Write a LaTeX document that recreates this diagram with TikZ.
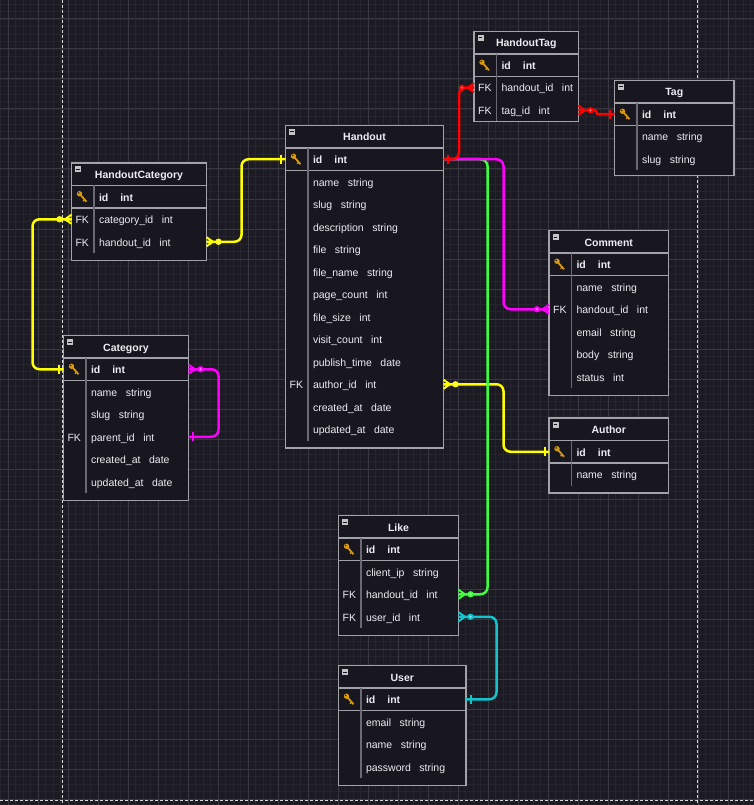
\documentclass[tikz,border=0pt]{standalone}
\usepackage{fontspec}
\setmainfont{Liberation Sans}
\usepackage{tikz}
\usetikzlibrary{positioning,calc}

\definecolor{bgcol}{HTML}{1C1A23}
\definecolor{gridminor}{HTML}{26242D}
\definecolor{gridmajor}{HTML}{393740}
\definecolor{tablefill}{HTML}{18161E}
\definecolor{linegray}{HTML}{A3A2A8}
\definecolor{divgray}{HTML}{6B6A72}
\definecolor{minusgray}{HTML}{C4C4C8}
\definecolor{fg}{HTML}{EDEDF3}
\definecolor{keycol}{HTML}{D89A10}
\definecolor{relyel}{HTML}{FFFF00}
\definecolor{relmag}{HTML}{FF00FF}
\definecolor{relred}{HTML}{FF0000}
\definecolor{relgrn}{HTML}{3CFF3C}
\definecolor{relcya}{HTML}{14C4CC}

\newcommand{\fieldfont}{\fontsize{10.5}{12}\selectfont}
\newcommand{\titlefont}{\fontsize{10.5}{12}\selectfont\bfseries}
\newcommand{\colrow}[2]{#1\hspace{8.5pt}#2}
\newcommand{\idrow}{id\hspace{12pt}int}

\tikzstyle{tbox}=[draw=linegray, line width=1.2pt, fill=tablefill, inner sep=0pt, outer sep=0pt, anchor=north west]
\tikzstyle{ttitle}=[font=\titlefont, text=fg, inner sep=0pt, outer sep=0pt, minimum height=22.5pt, text height=9.5pt, text depth=1pt]
\tikzstyle{field}=[font=\fieldfont, text=fg, inner sep=0pt, outer sep=0pt, minimum height=22.5pt, text height=9.5pt, text depth=1pt, anchor=west]
\tikzstyle{pkfield}=[field, font=\titlefont]
\tikzstyle{fk}=[font=\fieldfont, text=fg, inner sep=0pt, outer sep=0pt, text height=9.5pt, text depth=1pt]
\tikzstyle{tline}=[draw=linegray, line width=1.2pt]
\tikzstyle{tdiv}=[draw=divgray, line width=1.5pt]
\tikzstyle{rel}=[line width=2.5pt, rounded corners=7pt]
\tikzstyle{pageline}=[draw=white!85!black, line width=1pt, dash pattern=on 3pt off 2pt]
\tikzset{
  nextrow/.style={field, below=0pt of #1.south west, anchor=north west},
  crow/.pic={
    \draw[line width=2pt] (0,4.5) -- (6.5,0) -- (0,-4.5) (0,0) -- (6.5,0);
    \fill (12,0) circle (3.2pt);
    \fill[white, opacity=0.6] (12,0) circle (1.1pt);
  },
  onebar/.pic={
    \draw[line width=2pt] (4.5,-4.5) -- (4.5,4.5);
  },
  keyicon/.pic={
    \fill[keycol] (0,-3) circle (2.7pt);
    \draw[keycol, line width=1.8pt] (0,-3) -- (7,5);
    \draw[keycol, line width=1.3pt] (5.2,2.8) -- (3.5,4.5);
    \fill[tablefill] (-0.8,-3.8) circle (0.8pt);
  },
  minbox/.pic={
    \fill[minusgray] (3.5,3.5) rectangle (9.5,9.5);
    \draw[tablefill, line width=1pt] (4.6,6.5) -- (8.4,6.5);
  }
}

\begin{document}
\begin{tikzpicture}[x=1pt, y=-1pt, node distance=22.5pt]
\useasboundingbox (0,0) rectangle (754,805);
% background and grid
\fill[bgcol] (0,0) rectangle (754,805);
\foreach \gx in {0.5,8,...,754} \draw[gridminor, line width=0.8pt] (\gx,0) -- (\gx,805);
\foreach \gy in {4,11.5,...,805} \draw[gridminor, line width=0.8pt] (0,\gy) -- (754,\gy);
\foreach \gx in {8,38,...,754} \draw[gridmajor, line width=1pt] (\gx,0) -- (\gx,805);
\foreach \gy in {19,49,...,805} \draw[gridmajor, line width=1pt] (0,\gy) -- (754,\gy);
\draw[pageline] (62,0) -- (62,805);
\draw[pageline] (697,0) -- (697,805);
\draw[pageline] (0,800) -- (754,800);

% HandoutCategory
\node[tbox, minimum width=135pt, minimum height=97.5pt] (hc) at (71.5,163) {};
\pic at (hc.north west) {minbox};
\node[ttitle] (hc-t) at ([yshift=-11.25pt]hc.north) {HandoutCategory};
\node[pkfield] (hc-id) at ([xshift=27.5pt,yshift=-33.75pt]hc.north west) {\idrow};
\node[nextrow=hc-id] (hc-cat) {\colrow{category\_id}{int}};
\node[nextrow=hc-cat] (hc-hid) {\colrow{handout\_id}{int}};
\node[fk, left=10pt of hc-cat] (hc-fk1) {FK};
\node[fk, left=10pt of hc-hid] (hc-fk2) {FK};
\pic at ($(hc.west |- hc-id)+(8,0)$) {keyicon};
\draw[tline] (hc.west |- hc-t.south) -- (hc.east |- hc-t.south);
\draw[tline] (hc.west |- hc-id.south) -- (hc.east |- hc-id.south);
\draw[tdiv] ($(hc.west |- hc-t.south)+(22.5,0)$) -- ($(hc.west |- hc-hid.south)+(22.5,0)$);

% Handout
\node[tbox, minimum width=158pt, minimum height=322.5pt] (ho) at (285.5,125.5) {};
\pic at (ho.north west) {minbox};
\node[ttitle] (ho-t) at ([yshift=-11.25pt]ho.north) {Handout};
\node[pkfield] (ho-id) at ([xshift=27.5pt,yshift=-33.75pt]ho.north west) {\idrow};
\node[nextrow=ho-id] (ho-nm) {\colrow{name}{string}};
\node[nextrow=ho-nm] (ho-sl) {\colrow{slug}{string}};
\node[nextrow=ho-sl] (ho-ds) {\colrow{description}{string}};
\node[nextrow=ho-ds] (ho-fl) {\colrow{file}{string}};
\node[nextrow=ho-fl] (ho-fn) {\colrow{file\_name}{string}};
\node[nextrow=ho-fn] (ho-pc) {\colrow{page\_count}{int}};
\node[nextrow=ho-pc] (ho-fs) {\colrow{file\_size}{int}};
\node[nextrow=ho-fs] (ho-vc) {\colrow{visit\_count}{int}};
\node[nextrow=ho-vc] (ho-pt) {\colrow{publish\_time}{date}};
\node[nextrow=ho-pt] (ho-au) {\colrow{author\_id}{int}};
\node[nextrow=ho-au] (ho-ca) {\colrow{created\_at}{date}};
\node[nextrow=ho-ca] (ho-ua) {\colrow{updated\_at}{date}};
\node[fk, left=10pt of ho-au] (ho-fk1) {FK};
\pic at ($(ho.west |- ho-id)+(8,0)$) {keyicon};
\draw[tline] (ho.west |- ho-t.south) -- (ho.east |- ho-t.south);
\draw[tline] (ho.west |- ho-id.south) -- (ho.east |- ho-id.south);
\draw[tdiv] ($(ho.west |- ho-t.south)+(22.5,0)$) -- ($(ho.west |- ho-ua.south)+(22.5,0)$);

% HandoutTag
\node[tbox, minimum width=104.5pt, minimum height=90pt] (ht) at (474,31.5) {};
\pic at (ht.north west) {minbox};
\node[ttitle] (ht-t) at ([yshift=-11.25pt]ht.north) {HandoutTag};
\node[pkfield] (ht-id) at ([xshift=27.5pt,yshift=-33.75pt]ht.north west) {\idrow};
\node[nextrow=ht-id] (ht-hid) {\colrow{handout\_id}{int}};
\node[nextrow=ht-hid] (ht-tag) {\colrow{tag\_id}{int}};
\node[fk, left=10pt of ht-hid] (ht-fk1) {FK};
\node[fk, left=10pt of ht-tag] (ht-fk2) {FK};
\pic at ($(ht.west |- ht-id)+(8,0)$) {keyicon};
\draw[tline] (ht.west |- ht-t.south) -- (ht.east |- ht-t.south);
\draw[tline] (ht.west |- ht-id.south) -- (ht.east |- ht-id.south);
\draw[tdiv] ($(ht.west |- ht-t.south)+(22.5,0)$) -- ($(ht.west |- ht-tag.south)+(22.5,0)$);

% Tag
\node[tbox, minimum width=119.5pt, minimum height=95pt] (tg) at (614.5,80.5) {};
\pic at (tg.north west) {minbox};
\node[ttitle] (tg-t) at ([yshift=-11.25pt]tg.north) {Tag};
\node[pkfield] (tg-id) at ([xshift=27.5pt,yshift=-33.75pt]tg.north west) {\idrow};
\node[nextrow=tg-id] (tg-nm) {\colrow{name}{string}};
\node[nextrow=tg-nm] (tg-sl) {\colrow{slug}{string}};
\pic at ($(tg.west |- tg-id)+(8,0)$) {keyicon};
\draw[tline] (tg.west |- tg-t.south) -- (tg.east |- tg-t.south);
\draw[tline] (tg.west |- tg-id.south) -- (tg.east |- tg-id.south);
\draw[tdiv] ($(tg.west |- tg-t.south)+(22.5,0)$) -- ($(tg.west |- tg-sl.south)+(22.5,0)$);

% Category
\node[tbox, minimum width=125pt, minimum height=165pt] (ca) at (63.5,335.5) {};
\pic at (ca.north west) {minbox};
\node[ttitle] (ca-t) at ([yshift=-11.25pt]ca.north) {Category};
\node[pkfield] (ca-id) at ([xshift=27.5pt,yshift=-33.75pt]ca.north west) {\idrow};
\node[nextrow=ca-id] (ca-nm) {\colrow{name}{string}};
\node[nextrow=ca-nm] (ca-sl) {\colrow{slug}{string}};
\node[nextrow=ca-sl] (ca-par) {\colrow{parent\_id}{int}};
\node[nextrow=ca-par] (ca-ca) {\colrow{created\_at}{date}};
\node[nextrow=ca-ca] (ca-ua) {\colrow{updated\_at}{date}};
\node[fk, left=10pt of ca-par] (ca-fk1) {FK};
\pic at ($(ca.west |- ca-id)+(8,0)$) {keyicon};
\draw[tline] (ca.west |- ca-t.south) -- (ca.east |- ca-t.south);
\draw[tline] (ca.west |- ca-id.south) -- (ca.east |- ca-id.south);
\draw[tdiv] ($(ca.west |- ca-t.south)+(22.5,0)$) -- ($(ca.west |- ca-ua.south)+(22.5,0)$);

% Comment
\node[tbox, minimum width=119.5pt, minimum height=165pt] (cm) at (549,230.5) {};
\pic at (cm.north west) {minbox};
\node[ttitle] (cm-t) at ([yshift=-11.25pt]cm.north) {Comment};
\node[pkfield] (cm-id) at ([xshift=27.5pt,yshift=-33.75pt]cm.north west) {\idrow};
\node[nextrow=cm-id] (cm-nm) {\colrow{name}{string}};
\node[nextrow=cm-nm] (cm-hid) {\colrow{handout\_id}{int}};
\node[nextrow=cm-hid] (cm-em) {\colrow{email}{string}};
\node[nextrow=cm-em] (cm-bd) {\colrow{body}{string}};
\node[nextrow=cm-bd] (cm-st) {\colrow{status}{int}};
\node[fk, left=10pt of cm-hid] (cm-fk1) {FK};
\pic at ($(cm.west |- cm-id)+(8,0)$) {keyicon};
\draw[tline] (cm.west |- cm-t.south) -- (cm.east |- cm-t.south);
\draw[tline] (cm.west |- cm-id.south) -- (cm.east |- cm-id.south);
\draw[tdiv] ($(cm.west |- cm-t.south)+(22.5,0)$) -- ($(cm.west |- cm-st.south)+(22.5,0)$);

% Author
\node[tbox, minimum width=119.5pt, minimum height=75pt] (au) at (549,418) {};
\pic at (au.north west) {minbox};
\node[ttitle] (au-t) at ([yshift=-11.25pt]au.north) {Author};
\node[pkfield] (au-id) at ([xshift=27.5pt,yshift=-33.75pt]au.north west) {\idrow};
\node[nextrow=au-id] (au-nm) {\colrow{name}{string}};
\pic at ($(au.west |- au-id)+(8,0)$) {keyicon};
\draw[tline] (au.west |- au-t.south) -- (au.east |- au-t.south);
\draw[tline] (au.west |- au-id.south) -- (au.east |- au-id.south);
\draw[tdiv] ($(au.west |- au-t.south)+(22.5,0)$) -- ($(au.west |- au-nm.south)+(22.5,0)$);

% Like
\node[tbox, minimum width=120pt, minimum height=120pt] (lk) at (338.5,515.5) {};
\pic at (lk.north west) {minbox};
\node[ttitle] (lk-t) at ([yshift=-11.25pt]lk.north) {Like};
\node[pkfield] (lk-id) at ([xshift=27.5pt,yshift=-33.75pt]lk.north west) {\idrow};
\node[nextrow=lk-id] (lk-ip) {\colrow{client\_ip}{string}};
\node[nextrow=lk-ip] (lk-hid) {\colrow{handout\_id}{int}};
\node[nextrow=lk-hid] (lk-uid) {\colrow{user\_id}{int}};
\node[fk, left=10pt of lk-hid] (lk-fk1) {FK};
\node[fk, left=10pt of lk-uid] (lk-fk2) {FK};
\pic at ($(lk.west |- lk-id)+(8,0)$) {keyicon};
\draw[tline] (lk.west |- lk-t.south) -- (lk.east |- lk-t.south);
\draw[tline] (lk.west |- lk-id.south) -- (lk.east |- lk-id.south);
\draw[tdiv] ($(lk.west |- lk-t.south)+(22.5,0)$) -- ($(lk.west |- lk-uid.south)+(22.5,0)$);

% User
\node[tbox, minimum width=127.5pt, minimum height=120pt] (us) at (338.5,665.5) {};
\pic at (us.north west) {minbox};
\node[ttitle] (us-t) at ([yshift=-11.25pt]us.north) {User};
\node[pkfield] (us-id) at ([xshift=27.5pt,yshift=-33.75pt]us.north west) {\idrow};
\node[nextrow=us-id] (us-em) {\colrow{email}{string}};
\node[nextrow=us-em] (us-nm) {\colrow{name}{string}};
\node[nextrow=us-nm] (us-pw) {\colrow{password}{string}};
\pic at ($(us.west |- us-id)+(8,0)$) {keyicon};
\draw[tline] (us.west |- us-t.south) -- (us.east |- us-t.south);
\draw[tline] (us.west |- us-id.south) -- (us.east |- us-id.south);
\draw[tdiv] ($(us.west |- us-t.south)+(22.5,0)$) -- ($(us.west |- us-pw.south)+(22.5,0)$);

% relations
\draw[rel, relyel] (hc.west |- hc-cat) -- ++(-39,0) |- (ca.west |- ca-id);
\pic[relyel, rotate=180] at (hc.west |- hc-cat) {crow};
\pic[relyel, rotate=180] at (ca.west |- ca-id) {onebar};
\draw[rel, relyel] (hc.east |- hc-hid) -- ++(35,0) |- (ho.west |- ho-id);
\pic[relyel] at (hc.east |- hc-hid) {crow};
\pic[relyel, rotate=180] at (ho.west |- ho-id) {onebar};
\draw[rel, relyel] (ho.east |- ho-au) -- ++(60,0) |- (au.west |- au-id);
\pic[relyel] at (ho.east |- ho-au) {crow};
\pic[relyel, rotate=180] at (au.west |- au-id) {onebar};

\draw[rel, relmag] (ca.east |- ca-id) -- ++(30,0) |- (ca.east |- ca-par);
\pic[relmag] at (ca.east |- ca-id) {crow};
\pic[relmag] at (ca.east |- ca-par) {onebar};

\draw[rel, relgrn] (ho.east |- ho-id) -- ++(44,0) |- (lk.east |- lk-hid);
\pic[relgrn] at (lk.east |- lk-hid) {crow};
\draw[rel, relmag] (ho.east |- ho-id) -- ++(60,0) |- (cm.west |- cm-hid);
\pic[relmag, rotate=180] at (cm.west |- cm-hid) {crow};

\draw[rel, relcya] (lk.east |- lk-uid) -- ++(38,0) |- (us.east |- us-id);
\pic[relcya] at (lk.east |- lk-uid) {crow};
\pic[relcya] at (us.east |- us-id) {onebar};

\draw[rel, relred] (ht.west |- ht-hid) -- ++(-15,0) |- (ho.east |- ho-id);
\pic[relred, rotate=180] at (ht.west |- ht-hid) {crow};
\pic[relred] at (ho.east |- ho-id) {onebar};
\draw[rel, relred, rounded corners=2pt] (ht.east |- ht-tag) -- ++(18,0) |- (tg.west |- tg-id);
\pic[relred] at (ht.east |- ht-tag) {crow};
\pic[relred, rotate=180] at (tg.west |- tg-id) {onebar};
\end{tikzpicture}
\end{document}
